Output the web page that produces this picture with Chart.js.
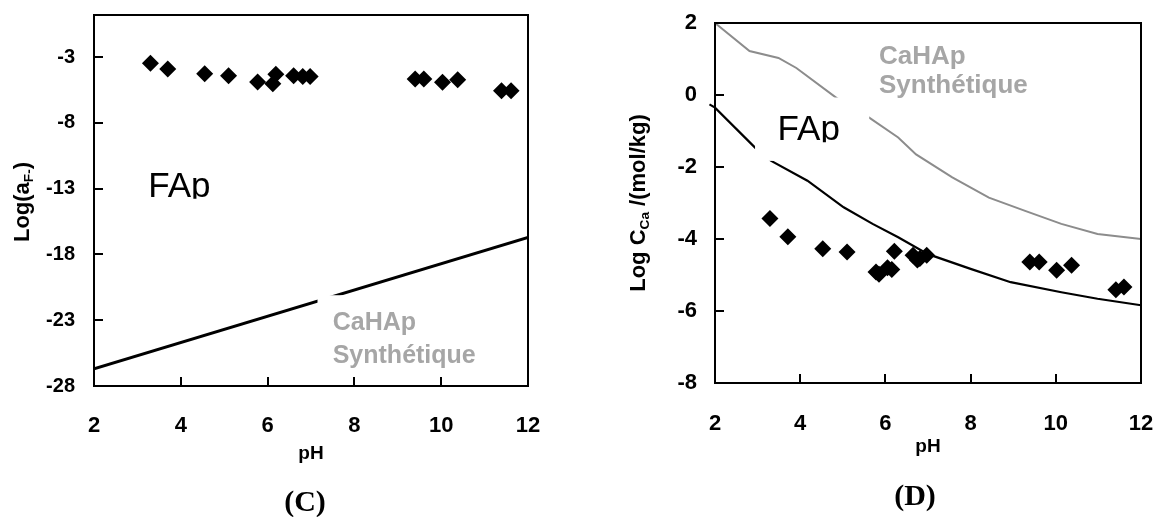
<!DOCTYPE html>
<html>
<head>
<meta charset="utf-8">
<script src="https://cdn.jsdelivr.net/npm/chart.js@4.4.0/dist/chart.umd.min.js"></script>
<style>
    html, body { margin: 0; padding: 0; background: #fff; }
    #wrap { position: relative; width: 1158px; height: 517px; overflow: hidden; }
    canvas { position: absolute; top: 0; }
</style>
</head>
<body>
<div id="wrap">
    <canvas id="chartC" width="580" height="517" style="left:0"></canvas>
    <canvas id="chartD" width="578" height="517" style="left:580px"></canvas>
</div>
<script>
// shared pH axis
const phTicks = [2, 4, 6, 8, 10, 12];

// panel (C) : Log(aF-) vs pH
const cTicksY = [-28, -23, -18, -13, -8, -3];
const cSamplePH  = [3.3, 3.7, 4.55, 5.1, 5.77, 6.12, 6.19, 6.6, 6.81, 6.98, 9.4, 9.6, 10.03, 10.38, 11.39, 11.61];
const cSampleLog = [-3.46, -3.9, -4.26, -4.41, -4.89, -5.02, -4.3, -4.41, -4.48, -4.48, -4.66, -4.66, -4.91, -4.73, -5.55, -5.55];
const cHapPH  = [2, 12];
const cHapLog = [-26.7, -16.7];

// panel (D) : Log Cca vs pH
const dTicksY = [-8, -6, -4, -2, 0, 2];
const dSamplePH  = [3.29, 3.71, 4.53, 5.1, 5.78, 5.85, 6.05, 6.15, 6.21, 6.65, 6.75, 6.81, 6.97, 9.39, 9.61, 10.02, 10.37, 11.41, 11.6];
const dSampleLog = [-3.43, -3.94, -4.27, -4.36, -4.92, -4.98, -4.8, -4.85, -4.34, -4.45, -4.58, -4.54, -4.45, -4.64, -4.64, -4.87, -4.73, -5.41, -5.33];
const dFapPH  = [1.87, 2, 2.94, 3.32, 4.17, 5.02, 5.7, 6.3, 7.0, 8.0, 8.94, 10.13, 10.98, 12];
const dFapLog = [-0.26, -0.35, -1.46, -1.83, -2.38, -3.12, -3.58, -3.95, -4.42, -4.83, -5.2, -5.48, -5.66, -5.84];
const dHapPH  = [2, 2.81, 3.49, 3.91, 4.85, 5.62, 6.3, 6.72, 7.57, 8.43, 9.28, 10.13, 10.98, 12];
const dHapLog = [2, 1.22, 1.03, 0.75, -0.08, -0.63, -1.18, -1.65, -2.29, -2.85, -3.22, -3.58, -3.86, -4.0];

const FAMILY = '"Liberation Sans", Arial, sans-serif';
Chart.defaults.font.family = FAMILY;
Chart.defaults.color = '#000';

function points(xs, ys) {
    return xs.map((x, i) => ({ x: x, y: ys[i] }));
}

// draw text made of normal and subscript parts, centred on (x, y)
function richText(ctx, parts, x, y, size, rotate) {
    ctx.save();
    ctx.translate(x, y);
    if (rotate) ctx.rotate(-Math.PI / 2);
    ctx.textBaseline = 'alphabetic';
    ctx.textAlign = 'left';
    let total = 0;
    parts.forEach(p => {
        ctx.font = 'bold ' + (p.sub ? size * 0.62 : size) + 'px ' + FAMILY;
        p.w = ctx.measureText(p.t).width;
        total += p.w;
    });
    let cx = -total / 2;
    parts.forEach(p => {
        ctx.font = 'bold ' + (p.sub ? size * 0.62 : size) + 'px ' + FAMILY;
        ctx.fillText(p.t, cx, size * 0.36 + (p.sub ? size * 0.2 : 0));
        cx += p.w;
    });
    ctx.restore();
}

const decoPlugin = {
    id: 'deco',
    afterDatasetsDraw(chart, args, o) {
        const ctx = chart.ctx;
        const xs = chart.scales.x, ys = chart.scales.y;
        ctx.save();
        // white label boxes that cut the curves
        ctx.fillStyle = '#fff';
        (o.masks || []).forEach(m => {
            const l = xs.getPixelForValue(m[0]), r = xs.getPixelForValue(m[1]);
            const t = ys.getPixelForValue(m[2]), b = ys.getPixelForValue(m[3]);
            ctx.fillRect(l, t, r - l, b - t);
        });
        // text labels
        (o.labels || []).forEach(lb => {
            const px = xs.getPixelForValue(lb.x), py = ys.getPixelForValue(lb.y);
            ctx.save();
            ctx.font = lb.font;
            ctx.fillStyle = lb.color;
            ctx.textAlign = 'left';
            ctx.textBaseline = 'alphabetic';
            if (lb.clip) {
                ctx.beginPath();
                ctx.rect(px - 5, py - 60, 300, 62);
                ctx.clip();
            }
            ctx.fillText(lb.text, px, py);
            ctx.restore();
        });
        ctx.restore();
    },
    afterDraw(chart, args, o) {
        const ctx = chart.ctx;
        const a = chart.chartArea;
        const xs = chart.scales.x, ys = chart.scales.y;
        ctx.save();
        ctx.strokeStyle = '#000';
        ctx.lineWidth = 2;
        ctx.strokeRect(a.left, a.top, a.right - a.left, a.bottom - a.top);
        // inner tick marks
        ctx.beginPath();
        phTicks.forEach(v => {
            if (v <= xs.min || v >= xs.max) return;
            const px = Math.round(xs.getPixelForValue(v));
            ctx.moveTo(px, a.bottom);
            ctx.lineTo(px, a.bottom - 9);
        });
        o.yTicks.forEach(v => {
            if (v <= ys.min || v >= ys.max) return;
            const py = Math.round(ys.getPixelForValue(v));
            ctx.moveTo(a.left, py);
            ctx.lineTo(a.left + 9, py);
        });
        ctx.stroke();
        // axis titles
        ctx.fillStyle = '#000';
        richText(ctx, [{ t: 'pH' }], (a.left + a.right) / 2, o.xTitleY, 19, false);
        richText(ctx, o.yTitle, o.yTitleX, o.yTitleY, o.yTitleSize, true);
        // panel caption
        ctx.font = 'bold 30px "Liberation Serif", "Times New Roman", serif';
        ctx.textAlign = 'center';
        ctx.textBaseline = 'middle';
        ctx.fillText(o.caption, o.captionX, o.captionY);
        ctx.restore();
    }
};

// fixed axis sizes, and no automatic padding from the tick labels
function fixSize(s, w, h) {
    if (w) s.width = w;
    if (h) s.height = h;
    s.paddingTop = 0;
    s.paddingBottom = 0;
    s.paddingLeft = 0;
    s.paddingRight = 0;
}

function scaleX(height, pad) {
    return {
        type: 'linear', min: 2, max: 12,
        afterBuildTicks: s => { s.ticks = phTicks.map(v => ({ value: v })); },
        afterFit: s => fixSize(s, 0, height),
        grid: { display: false, drawTicks: false },
        border: { display: false },
        ticks: { font: { size: 22, weight: 'bold' }, padding: pad, maxRotation: 0 }
    };
}

function scaleY(values, min, max, width, size, pad) {
    return {
        type: 'linear', min: min, max: max,
        afterBuildTicks: s => { s.ticks = values.map(v => ({ value: v })); },
        afterFit: s => fixSize(s, width, 0),
        grid: { display: false, drawTicks: false },
        border: { display: false },
        ticks: { font: { size: size, weight: 'bold' }, padding: pad }
    };
}

const grey = '#a6a6a6';

new Chart(document.getElementById('chartC'), {
    type: 'scatter',
    data: {
        datasets: [
            {
                data: points(cSamplePH, cSampleLog),
                pointStyle: 'rectRot', pointRadius: 8.5,
                backgroundColor: '#000', borderColor: '#000', borderWidth: 0
            },
            {
                data: points(cHapPH, cHapLog),
                showLine: true, pointRadius: 0,
                borderColor: '#000', borderWidth: 3
            }
        ]
    },
    options: {
        responsive: false,
        animation: false,
        layout: { padding: { left: 0, right: 52, top: 15, bottom: 0 } },
        scales: {
            x: scaleX(131, 27),
            y: scaleY(cTicksY, -28, 0.2, 94, 20, 19)
        },
        plugins: {
            legend: { display: false },
            tooltip: { enabled: false },
            deco: {
                yTicks: cTicksY,
                masks: [[7.15, 11.6, -21.1, -27.6]],
                labels: [
                    { text: 'FAp', x: 3.25, y: -13.62, font: '35px ' + FAMILY, color: '#000', clip: true },
                    { text: 'CaHAp', x: 7.5, y: -23.74, font: 'bold 25px ' + FAMILY, color: grey },
                    { text: 'Synthétique', x: 7.5, y: -26.25, font: 'bold 25px ' + FAMILY, color: grey }
                ],
                xTitleY: 452,
                yTitle: [{ t: 'Log(a' }, { t: 'F-', sub: true }, { t: ')' }],
                yTitleX: 21, yTitleY: 202, yTitleSize: 22,
                caption: '(C)', captionX: 305, captionY: 503
            }
        }
    },
    plugins: [decoPlugin]
});

new Chart(document.getElementById('chartD'), {
    type: 'scatter',
    data: {
        datasets: [
            {
                data: points(dSamplePH, dSampleLog),
                pointStyle: 'rectRot', pointRadius: 8.5,
                backgroundColor: '#000', borderColor: '#000', borderWidth: 0
            },
            {
                data: points(dFapPH, dFapLog),
                showLine: true, pointRadius: 0, clip: false,
                borderColor: '#000', borderWidth: 2.2
            },
            {
                data: points(dHapPH, dHapLog),
                showLine: true, pointRadius: 0,
                borderColor: '#8c8c8c', borderWidth: 2
            }
        ]
    },
    options: {
        responsive: false,
        animation: false,
        layout: { padding: { left: 0, right: 17, top: 23, bottom: 0 } },
        scales: {
            x: scaleX(134, 28),
            y: scaleY(dTicksY, -8, 2, 135, 22, 18)
        },
        plugins: {
            legend: { display: false },
            tooltip: { enabled: false },
            deco: {
                yTicks: dTicksY,
                masks: [[2.94, 5.62, -0.07, -1.83]],
                labels: [
                    { text: 'FAp', x: 3.47, y: -1.26, font: '35px ' + FAMILY, color: '#000', clip: true },
                    { text: 'CaHAp', x: 5.85, y: 0.85, font: 'bold 26px ' + FAMILY, color: grey },
                    { text: 'Synthétique', x: 5.85, y: 0.06, font: 'bold 26px ' + FAMILY, color: grey }
                ],
                xTitleY: 445,
                yTitle: [{ t: 'Log C' }, { t: 'Ca', sub: true }, { t: ' /(mol/kg)' }],
                yTitleX: 57, yTitleY: 203, yTitleSize: 22,
                caption: '(D)', captionX: 335, captionY: 497
            }
        }
    },
    plugins: [decoPlugin]
});
</script>
</body>
</html>
